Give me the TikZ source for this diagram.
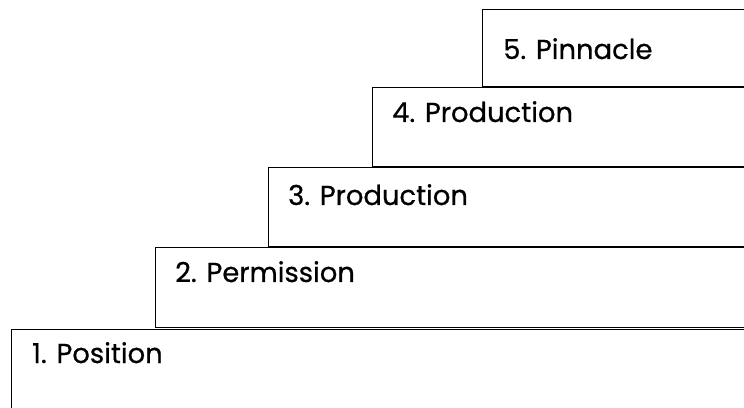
\documentclass[tikz,border=0pt]{standalone}
\usepackage{fontspec}
\setmainfont{Poppins}[FakeBold=0.6]
\begin{document}
\begin{tikzpicture}[x=1pt,y=1pt,
  box/.style={draw=black, line width=1.2pt, fill=white, anchor=north west, inner sep=0pt},
  lbl/.style={anchor=base west, inner sep=0pt, font=\fontsize{27.4}{31}\selectfont, text=black}]
\useasboundingbox (0,0) rectangle (744,407);
\clip (0,0) rectangle (744,407);
% boxes (y measured from top: y_tikz = 407 - y_img)
\node[box, minimum width=760pt, minimum height=90pt] (b1) at (11,78) {};
\node[box, minimum width=620pt, minimum height=80pt] (b2) at (155,160) {};
\node[box, minimum width=500pt, minimum height=79pt] (b3) at (268,240) {};
\node[box, minimum width=400pt, minimum height=79pt] (b4) at (372,320) {};
\node[box, minimum width=300pt, minimum height=77pt] (b5) at (482,398) {};
% labels
\node[lbl] (t1) at ([xshift=21pt,yshift=-34pt]b1.north west) {1. Position};
\node[lbl] (t2) at ([xshift=20pt,yshift=-35pt]b2.north west) {2. Permission};
\node[lbl] (t3) at ([xshift=20pt,yshift=-38pt]b3.north west) {3. Production};
\node[lbl] (t4) at ([xshift=20pt,yshift=-35pt]b4.north west) {4. Production};
\node[lbl] (t5) at ([xshift=21pt,yshift=-50pt]b5.north west) {5. Pinnacle};
\end{tikzpicture}
\end{document}
